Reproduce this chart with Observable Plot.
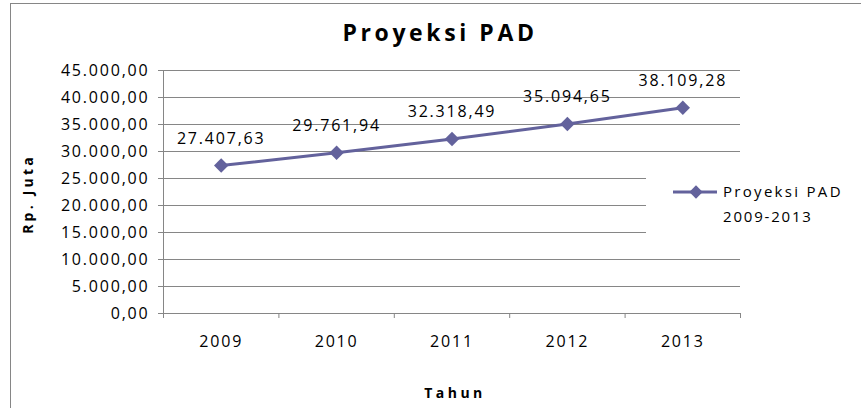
<!DOCTYPE html>
<html>
<head>
<meta charset="utf-8">
<script src="https://cdn.jsdelivr.net/npm/d3@7"></script>
<script src="https://cdn.jsdelivr.net/npm/@observablehq/plot@0.6"></script>
<style>
  html, body { margin: 0; padding: 0; background: #fff; }
  #chart svg { display: block; }
</style>
</head>
<body>
<div id="chart"></div>
<script>
const title = "Proyeksi PAD";
const seriesName = ["Proyeksi PAD", "2009-2013"];
const xTitle = "Tahun";
const yTitle = "Rp. Juta";
const years = [2009, 2010, 2011, 2012, 2013];
const values = [27407.63, 29761.94, 32318.49, 35094.65, 38109.28];
const yTicks = [0, 5000, 10000, 15000, 20000, 25000, 30000, 35000, 40000, 45000];

const lineColor = "#63629C";
const gridColor = "#868686";
const font = "'Open Sans', sans-serif";

const locale = d3.formatLocale({decimal: ",", thousands: ".", grouping: [3], currency: ["", ""]});
const fmt = locale.format(",.2f");

const data = years.map((year, i) => ({year, value: values[i]}));
const bounds = [years[0] - 0.5, ...years.map(y => y + 0.5)];

const chart = Plot.plot({
  width: 861,
  height: 408,
  marginLeft: 163,
  marginRight: 121,
  marginTop: 70,
  marginBottom: 95,
  style: {fontFamily: font, fontSize: "16px", letterSpacing: "1.8px", color: "#000", background: "#fff"},
  x: {type: "linear", domain: [bounds[0], bounds[bounds.length - 1]]},
  y: {domain: [0, 45000]},
  marks: [
    Plot.gridY(yTicks, {stroke: gridColor, strokeOpacity: 1, strokeWidth: 1}),
    Plot.ruleY([0], {stroke: gridColor, strokeWidth: 1}),
    Plot.ruleX([bounds[0]], {y1: 0, y2: 45000, stroke: gridColor, strokeWidth: 1}),
    Plot.axisY({ticks: yTicks, tickSize: 5, tickPadding: 9, tickFormat: fmt, stroke: gridColor, fill: "#000", label: null}),
    Plot.axisX({ticks: bounds, tickSize: 5, tickFormat: () => "", stroke: gridColor, label: null}),
    Plot.axisX({ticks: years, tickSize: 0, tickPadding: 22, tickFormat: d => String(d), fill: "#000", label: null}),
    Plot.line(data, {x: "year", y: "value", stroke: lineColor, strokeWidth: 3}),
    Plot.dot(data, {x: "year", y: "value", symbol: "diamond2", r: 6.5, fill: lineColor, stroke: "none"}),
    Plot.text(data, {x: "year", y: "value", text: d => fmt(d.value), dy: -27, fill: "#000"})
  ]
});

const svg = d3.select(chart);

// outer chart border
svg.insert("rect", ":first-child")
  .attr("x", 10.5).attr("y", 3.5).attr("width", 900).attr("height", 500)
  .attr("fill", "#fff").attr("stroke", gridColor);

// title
svg.append("text")
  .attr("x", 440).attr("y", 33).attr("dy", "0.35em")
  .attr("text-anchor", "middle")
  .style("font-family", font).style("font-weight", "bold")
  .style("font-size", "23px").style("letter-spacing", "3.6px")
  .text(title);

// axis titles
svg.append("text")
  .attr("x", 455).attr("y", 393).attr("dy", "0.35em")
  .attr("text-anchor", "middle")
  .style("font-family", font).style("font-weight", "bold")
  .style("font-size", "14px").style("letter-spacing", "3.5px")
  .text(xTitle);

svg.append("text")
  .attr("transform", "translate(28,194) rotate(-90)")
  .attr("dy", "0.35em")
  .attr("text-anchor", "middle")
  .style("font-family", font).style("font-weight", "bold")
  .style("font-size", "14px").style("letter-spacing", "3.2px")
  .text(yTitle);

// legend
const lg = svg.append("g");
lg.append("rect").attr("x", 646).attr("y", 163).attr("width", 200).attr("height", 80).attr("fill", "#fff");
lg.append("line").attr("x1", 673).attr("x2", 717).attr("y1", 192).attr("y2", 192)
  .attr("stroke", lineColor).attr("stroke-width", 3);
lg.append("path").attr("d", d3.symbol(d3.symbolDiamond2, Math.PI * 6 * 6)())
  .attr("transform", "translate(696,192)").attr("fill", lineColor);
lg.append("text").attr("x", 723).attr("y", 192).attr("dy", "0.35em")
  .attr("text-anchor", "start")
  .style("font-family", font).style("font-size", "15px").style("letter-spacing", "2.3px")
  .text(seriesName[0]);
lg.append("text").attr("x", 723).attr("y", 217).attr("dy", "0.35em")
  .attr("text-anchor", "start")
  .style("font-family", font).style("font-size", "15px").style("letter-spacing", "1.8px")
  .text(seriesName[1]);

document.getElementById("chart").append(chart);
</script>
</body>
</html>
